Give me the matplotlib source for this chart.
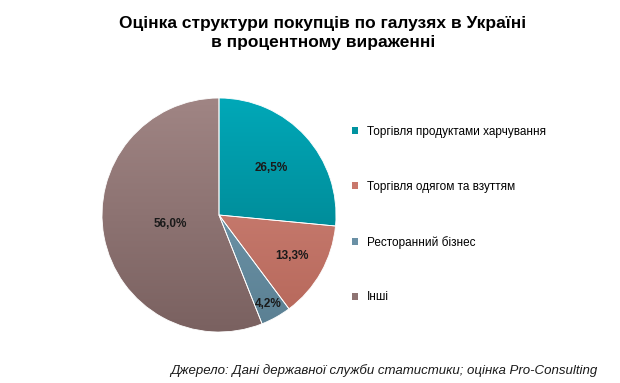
import numpy as np
import matplotlib
matplotlib.use("Agg")
import matplotlib.pyplot as plt
from matplotlib.patches import Patch
from matplotlib.colors import LinearSegmentedColormap

plt.rcParams['font.family'] = ['Liberation Sans', 'DejaVu Sans']

title = "Оцінка структури покупців по галузях в Україні\nв процентному вираженні"
categories = ["Торгівля продуктами харчування", "Торгівля одягом та взуттям",
              "Ресторанний бізнес", "Інші"]
values = [26.5, 13.3, 4.2, 56.0]
value_labels = ["26,5%", "13,3%", "4,2%", "56,0%"]
source = "Джерело: Дані державної служби статистики; оцінка Pro-Consulting"

colors_top = ["#00a8b8", "#d48a7e", "#7aa3b8", "#a08584"]
colors_bot = ["#007782", "#b56659", "#5a7f92", "#7a6160"]
colors_mid = ["#0093a0", "#c9786c", "#6a90a5", "#8e7372"]
label_r = [0.6, 0.72, 0.87, 0.42]

W, H = 620, 383
fig = plt.figure(figsize=(W/100, H/100), dpi=100)
cx, cy, R = 219, 215, 117
ax = fig.add_axes([(cx-R)/W, (H-cy-R)/H, 2*R/W, 2*R/H])

wedges, _ = ax.pie(values, colors=colors_mid, startangle=90, counterclock=False,
                   radius=1, wedgeprops=dict(edgecolor="white", linewidth=0.6))
grad = np.linspace(0, 1, 256).reshape(-1, 1)
for w, ct, cb in zip(wedges, colors_top, colors_bot):
    cmap = LinearSegmentedColormap.from_list("g", [cb, ct])
    im = ax.imshow(grad, extent=(-1, 1, -1, 1), origin="lower", cmap=cmap,
                   aspect="auto", zorder=w.get_zorder() + 0.01)
    im.set_clip_path(w)
    w.set_facecolor("none")
    w.set_zorder(w.get_zorder() + 0.05)

for w, lab, r in zip(wedges, value_labels, label_r):
    ang = np.deg2rad((w.theta1 + w.theta2) / 2)
    ax.text(r*np.cos(ang), r*np.sin(ang), lab, ha="center", va="center",
            fontsize=8.5, fontweight="bold", color="#1a1a1a", zorder=10)
ax.set_xlim(-1, 1)
ax.set_ylim(-1, 1)
ax.set_aspect("equal")
ax.axis("off")

fig.text(323/W, 1 - 33/H, title, ha="center", va="center",
         fontsize=12.5, fontweight="bold", linespacing=1.35)

handles = [Patch(facecolor=c, edgecolor="none") for c in colors_mid]
leg = fig.legend(handles, categories, loc="upper left",
                 bbox_to_anchor=(352/W, 1 - 126/H), frameon=False,
                 fontsize=8.5, handlelength=0.5, handleheight=0.5,
                 handletextpad=0.8, labelspacing=3.63, borderaxespad=0,
                 borderpad=0)

fig.text(597/W, 1 - 371/H, source, ha="right", va="center", fontsize=9.5,
         style="italic", color="#1a1a1a")

fig.savefig("out.png", dpi=100)
